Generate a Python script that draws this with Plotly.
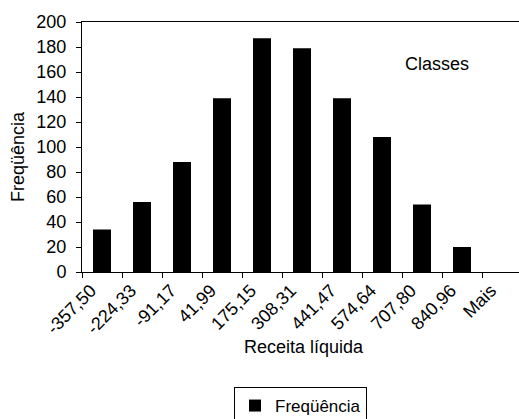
import numpy as np
import plotly.graph_objects as go

# Histogram classes (upper bound of each class) and their frequencies
classes = ["-357,50", "-224,33", "-91,17", "41,99", "175,15", "308,31",
           "441,47", "574,64", "707,80", "840,96", "Mais"]
frequencia = [34, 56, 88, 139, 187, 179, 139, 108, 54, 20, 0]
y_ticks = list(range(0, 201, 20))

FONT = "Liberation Sans, Arial, sans-serif"
FS = 18

W, H = 519, 419
L, T, B = 82, 22, 147
PW, PH = W - L, H - T - B

n = len(classes)
x_range = [-0.5, n - 0.5 - 0.075]
boundaries = np.arange(n + 1) - 0.5


def px_x(x):
    return (x - L) / PW


def px_y(y):
    return (H - B - y) / PH


fig = go.Figure()
fig.add_trace(go.Bar(
    x=classes, y=frequencia, name="Freqüência",
    marker=dict(color="black", line=dict(width=0)),
))

fig.update_layout(
    width=W, height=H,
    margin=dict(l=L, r=0, t=T, b=B, autoexpand=False),
    paper_bgcolor="white", plot_bgcolor="white",
    font=dict(family=FONT, size=FS, color="black"),
    bargap=0.55,
    showlegend=True,
    legend=dict(
        xref="container", yref="container",
        x=300.5 / W, xanchor="center", y=1 - 387 / H, yanchor="top",
        bordercolor="black", borderwidth=1,
        font=dict(family=FONT, size=17),
        itemwidth=30,
    ),
    xaxis=dict(
        type="category", categoryorder="array", categoryarray=classes,
        range=x_range, tickson="boundaries", automargin=False,
        ticks="outside", ticklen=5, tickcolor="black", tickwidth=1,
        showline=True, linecolor="black", linewidth=1, mirror=True,
        tickangle=-45, ticklabelstandoff=0, ticklabelshift=-11,
        showgrid=False, zeroline=False,
        tickfont=dict(family=FONT, size=FS),
    ),
    xaxis2=dict(
        overlaying="x", anchor="y", side="bottom",
        range=x_range, tickvals=list(boundaries), automargin=False,
        ticks="inside", ticklen=3, tickcolor="black", tickwidth=1,
        showticklabels=False, showline=False, showgrid=False, zeroline=False,
    ),
    yaxis=dict(
        range=[0, 200], tickvals=y_ticks, automargin=False,
        ticks="outside", ticklen=5, tickcolor="black", tickwidth=1,
        ticklabelstandoff=6,
        showline=True, linecolor="black", linewidth=1,
        showgrid=False, zeroline=False,
        tickfont=dict(family=FONT, size=FS),
    ),
    yaxis2=dict(
        overlaying="y", anchor="x", side="left",
        range=[0, 200], tickvals=y_ticks, automargin=False,
        ticks="inside", ticklen=3, tickcolor="black", tickwidth=1,
        showticklabels=False, showline=False, showgrid=False, zeroline=False,
    ),
)

# Axis titles and the "Classes" label
common = dict(xref="paper", yref="paper", showarrow=False,
              xanchor="center", yanchor="middle",
              font=dict(family=FONT, size=FS))
fig.add_annotation(text="Receita líquida", x=px_x(304), y=px_y(347), **common)
fig.add_annotation(text="Freqüência", x=px_x(18), y=px_y(157),
                   textangle=-90, **common)
fig.add_annotation(text="Classes", x=px_x(437), y=px_y(64), **common)

fig.write_html("out.html")
